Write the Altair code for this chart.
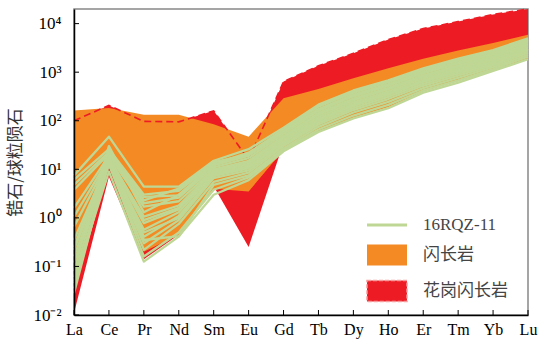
import altair as alt
import pandas as pd

# ---------------- data ----------------
elements = ["La", "Ce", "Pr", "Nd", "Sm", "Eu", "Gd", "Tb", "Dy", "Ho", "Er", "Tm", "Yb", "Lu"]
y_tick_values = [0.01, 0.1, 1, 10, 100, 1000, 10000]
y_tick_labels = ["10⁻²", "10⁻¹", "10⁰", "10¹", "10²", "10³", "10⁴"]

# granodiorite field (花岗闪长岩)
granodiorite_upper = [100, 207, 97, 95, 160, 15.7, 640, 1350, 2450, 4700, 7900, 11000, 15400, 20000]
granodiorite_lower = [0.011, 7, 0.14, 0.45, 4.5, 0.25, 35, 65, 120, 200, 420, 700, 1150, 2000]
# diorite field (闪长岩)
diorite_upper = [163, 182, 133, 133, 85, 47, 290, 450, 750, 1200, 1900, 2800, 4000, 5900]
diorite_lower = [0.1, 12, 0.2, 0.45, 4.0, 3.5, 25, 60, 115, 190, 400, 650, 1100, 1900]

# sample 16RQZ-11 analyses
s01 = [7.5, 47, 4.4, 4.4, 15, 26, 72, 215, 420, 680, 1200, 1900, 2850, 5000]
s02 = [6.1, 26, 3.0, 3.6, 13, 22, 64, 195, 380, 620, 1100, 1750, 2650, 4700]
s03 = [4.8, 23, 2.7, 2.9, 12, 19, 58, 175, 345, 570, 1020, 1620, 2480, 4400]
s04 = [3.8, 21, 2.0, 2.6, 11, 17, 53, 160, 315, 520, 940, 1500, 2300, 4100]
s05 = [1.6, 19, 1.7, 2.2, 10, 15, 48, 145, 285, 475, 860, 1380, 2150, 3800]
s06 = [1.06, 17, 1.06, 1.8, 9.5, 14, 44, 132, 262, 440, 800, 1280, 2000, 3550]
s07 = [0.66, 16, 0.78, 1.5, 8.5, 12.5, 41, 120, 240, 405, 740, 1180, 1850, 3300]
s08 = [0.35, 15, 0.57, 1.3, 8, 11.5, 38, 110, 220, 375, 680, 1100, 1720, 3100]
s09 = [0.22, 14, 0.41, 1.1, 7.2, 10.5, 35, 100, 200, 340, 630, 1010, 1600, 2900]
s10 = [0.16, 13, 0.30, 0.9, 6.6, 9.5, 32, 92, 182, 310, 575, 930, 1480, 2700]
s11 = [0.12, 12.5, 0.22, 0.75, 5.5, 8.5, 30, 84, 166, 280, 525, 850, 1380, 2500]
s12 = [0.05, 9, 0.126, 0.41, 4.8, 7.5, 27, 75, 148, 245, 470, 760, 1270, 2280]
s13 = [0.035, 13, 0.16, 0.5, 3.8, 6.8, 25, 66, 128, 212, 420, 680, 1160, 2080]
s14 = [0.028, 16, 0.35, 0.42, 3.0, 6.0, 23.5, 59, 112, 182, 380, 610, 1060, 1850]
s15 = [0.08, 30, 1.3, 3.0, 12.5, 21, 66, 200, 390, 640, 1130, 1800, 2700, 4800]
s16 = [0.06, 21, 2.3, 4.0, 14, 20, 60, 170, 330, 550, 980, 1560, 2400, 4250]
s17 = [0.25, 18, 0.9, 1.6, 9, 13, 46, 138, 275, 460, 830, 1330, 2080, 3700]
s18 = [0.045, 15, 0.5, 1.0, 7.5, 11, 36, 105, 210, 355, 650, 1050, 1650, 3000]
samples = [s01, s02, s03, s04, s05, s06, s07, s08, s09, s10, s11, s12, s13, s14, s15, s16, s17, s18]

legend_names = ["16RQZ-11", "闪长岩", "花岗闪长岩"]
legend_colors = ["#bfd794", "#f48a24", "#ed1c24"]
legend_borders = ["rgba(0,0,0,0)", "rgba(0,0,0,0)", "#f79a9c"]
legend_dashes = [[1, 0], [1, 0], [4, 2]]
legend_shapes = ["M-1,-0.07H1V0.07H-1Z", "M-1,-0.52H1V0.52H-1Z", "M-1,-0.52H1V0.52H-1Z"]

GREEN, ORANGE, RED = legend_colors

# ---------------- tables ----------------
idx = list(range(len(elements)))
df_red = pd.DataFrame({"idx": idx, "lo": granodiorite_lower, "hi": granodiorite_upper})
df_orange = pd.DataFrame({"idx": idx, "lo": diorite_lower, "hi": diorite_upper})
rows = []
for k, vals in enumerate(samples):
    for i, v in enumerate(vals):
        rows.append({"sample": f"s{k + 1:02d}", "idx": i, "val": v})
df_lines = pd.DataFrame(rows)
df_yt = pd.DataFrame({"v": y_tick_values})
df_xt = pd.DataFrame({"idx": idx})
df_leg = pd.DataFrame({"type": legend_names, "idx": [None] * 3, "val": [None] * 3})

W, H = 454, 306

x_label_expr = "[" + ",".join(f"'{e}'" for e in elements) + "][round(datum.value)]"
y_label_expr = "[" + ",".join(f"'{t}'" for t in y_tick_labels) + "][round(log(datum.value)/LN10)+2]"

xscale = alt.Scale(domain=[0, len(elements) - 1], nice=False, zero=False)
yscale = alt.Scale(type="log", domain=[0.01, 20000], nice=False)

x_axis = alt.Axis(
    values=idx, labelExpr=x_label_expr, ticks=False, grid=False, title=None,
    domainColor="black", domainWidth=1.5, labelFont="Liberation Serif",
    labelFontSize=16, labelColor="black", labelPadding=6, labelFlush=False,
    labelOverlap=False, zindex=2,
)
y_axis = alt.Axis(
    values=y_tick_values, labelExpr=y_label_expr, ticks=False, grid=False,
    title="锆石/球粒陨石", titleFont="Noto Sans CJK SC", titleFontSize=17,
    titleFontWeight="normal", titleColor="#333", titlePadding=8,
    domainColor="black", domainWidth=1.5, labelFont="Liberation Serif",
    labelFontSize=17, labelColor="black", labelPadding=13, labelFlush=False,
    labelOverlap=False, zindex=2,
)

X = alt.X("idx:Q", scale=xscale, axis=x_axis)

red_area = alt.Chart(df_red).mark_area(color=RED, opacity=1).encode(
    x=X,
    y=alt.Y("lo:Q", scale=yscale, axis=y_axis),
    y2="hi:Q",
)
orange_area = alt.Chart(df_orange).mark_area(color=ORANGE, opacity=1).encode(
    x=X,
    y=alt.Y("lo:Q", scale=yscale, axis=y_axis),
    y2="hi:Q",
)
red_dash = alt.Chart(df_red).mark_line(color=RED, strokeWidth=1.6, strokeDash=[7, 4]).encode(
    x=X,
    y=alt.Y("hi:Q", scale=yscale, axis=y_axis),
)
green_lines = alt.Chart(df_lines).mark_line(color=GREEN, strokeWidth=2.3, strokeJoin="round").encode(
    x=X,
    y=alt.Y("val:Q", scale=yscale, axis=y_axis),
    detail="sample:N",
)
y_ticks = alt.Chart(df_yt).mark_rule(color="black", strokeWidth=1).encode(
    y=alt.Y("v:Q", scale=yscale, axis=y_axis),
    x=alt.value(0),
    x2=alt.value(5),
)
x_ticks = alt.Chart(df_xt).mark_rule(color="black", strokeWidth=1).encode(
    x=X,
    y=alt.value(H),
    y2=alt.value(H - 5),
)

leg = alt.Legend(
    title=None, orient="none", legendX=292, legendY=195, symbolSize=1600,
    symbolStrokeWidth=1.5, labelFont="Liberation Serif, Noto Sans CJK SC",
    labelFontSize=17, labelColor="#444", labelOffset=15, rowPadding=1, padding=0,
)
legend_layer = alt.Chart(df_leg).mark_point(filled=True, opacity=1).encode(
    x=X,
    y=alt.Y("val:Q", scale=yscale, axis=y_axis),
    fill=alt.Fill("type:N", scale=alt.Scale(domain=legend_names, range=legend_colors), legend=leg),
    stroke=alt.Stroke("type:N", scale=alt.Scale(domain=legend_names, range=legend_borders), legend=leg),
    strokeDash=alt.StrokeDash("type:N", scale=alt.Scale(domain=legend_names, range=legend_dashes), legend=leg),
    shape=alt.Shape("type:N", scale=alt.Scale(domain=legend_names, range=legend_shapes), legend=leg),
)

chart = alt.layer(
    red_area, orange_area, red_dash, green_lines, y_ticks, x_ticks, legend_layer
).properties(
    width=W, height=H,
    padding={"left": 74, "top": 9, "right": 11, "bottom": 29},
    autosize=alt.AutoSizeParams(type="none"),
).configure_view(stroke="#888", strokeWidth=1.5)

chart.save("out.html", embed_options={"renderer": "svg", "actions": False})
